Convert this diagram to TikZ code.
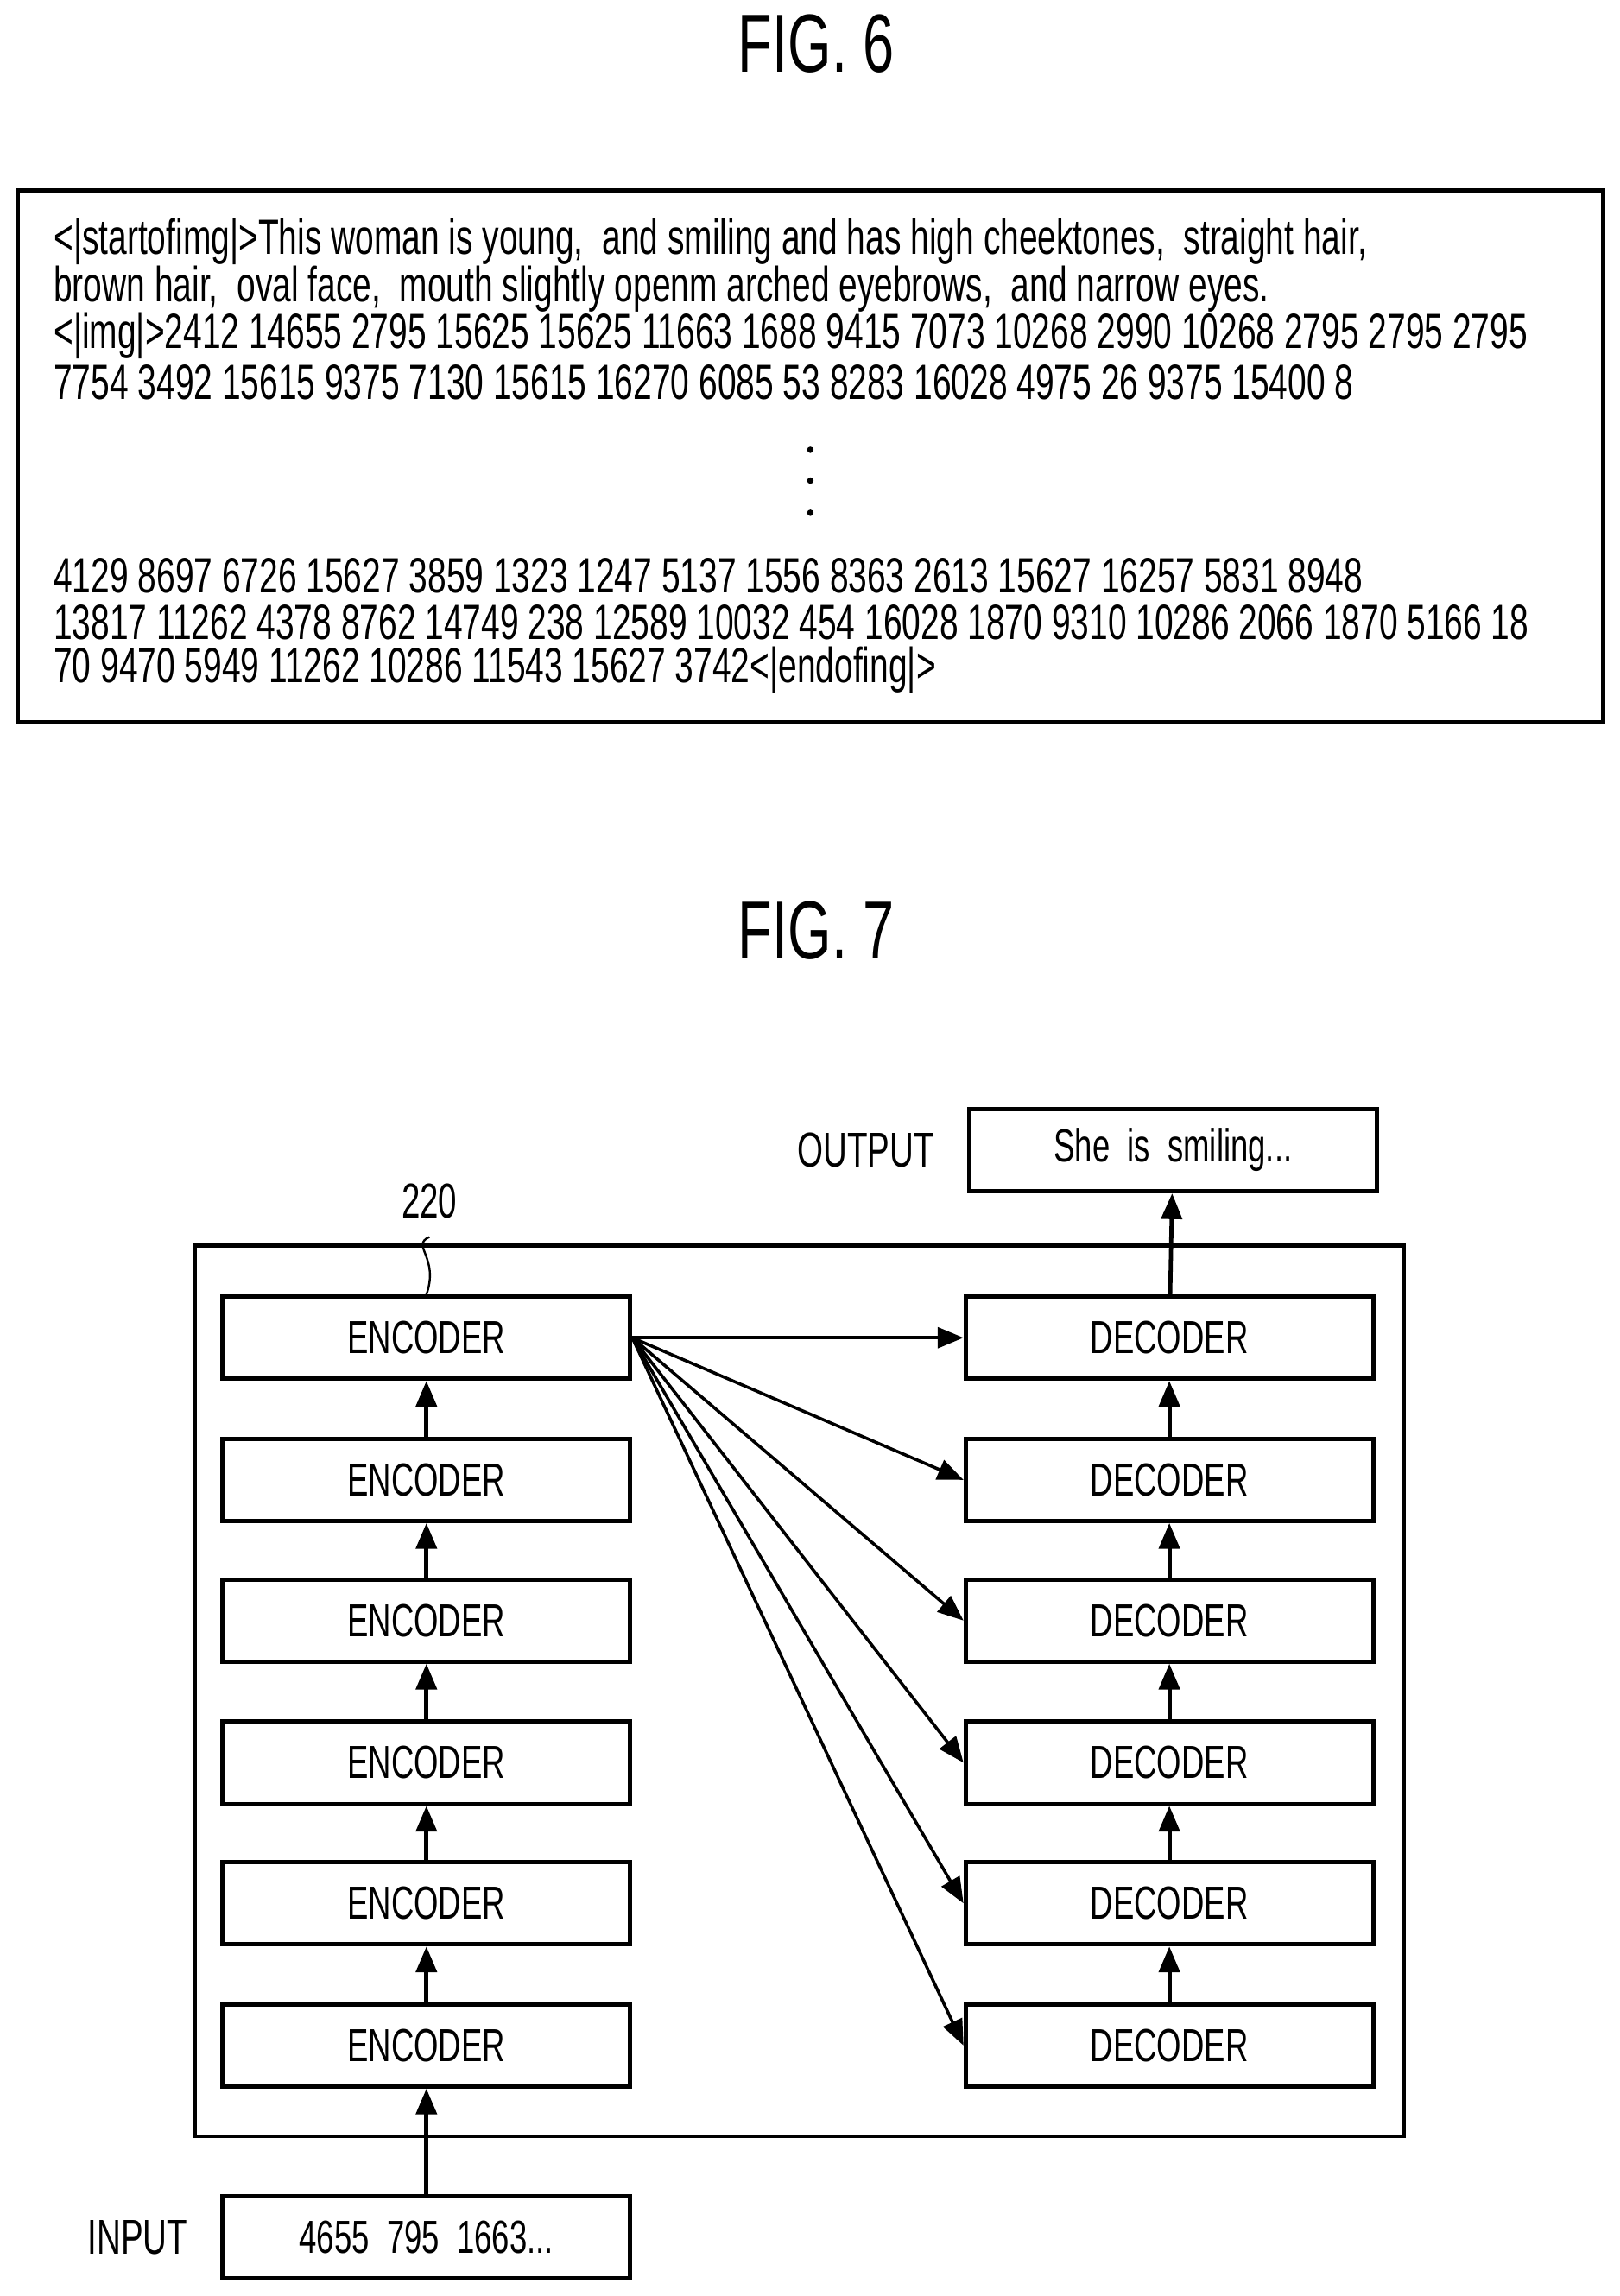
\documentclass[tikz,border=0pt]{standalone}
\usepackage{fontspec}
\setmainfont[FakeStretch=0.68]{Liberation Sans}
\usetikzlibrary{positioning, arrows.meta}

\begin{document}
\begin{tikzpicture}[
    x=0.01cm, y=-0.01cm,
    block/.style={draw, thick, minimum width=2.78cm, minimum height=0.56cm, font=\fontsize{9}{11}\selectfont},
    codeline/.style={anchor=west, inner sep=0pt, font=\fontsize{9.6}{11}\selectfont},
    arrow/.style={-{Triangle[length=5pt, width=4pt]}, thick}
]
    \useasboundingbox (0,0) rectangle (1105,1567);

    % FIG. 6
    \node[font=\fontsize{16}{18}\selectfont] (fig6) at (557,30) {FIG.\ 6};
    \draw[thick] (12,130) rectangle (1094,493);
    \node[codeline] (l1) at (36,165) {<|startofimg|>This woman is young, \ and smiling and has high cheektones, \ straight hair,};
    \node[codeline] (l2) at (36,197) {brown hair, \ oval face, \ mouth slightly openm arched eyebrows, \ and narrow eyes.};
    \node[codeline] (l3) at (36,229) {<|img|>2412 14655 2795 15625 15625 11663 1688 9415 7073 10268 2990 10268 2795 2795 2795};
    \node[codeline] (l4) at (36,261) {7754 3492 15615 9375 7130 15615 16270 6085 53 8283 16028 4975 26 9375 15400 8};
    \foreach \y in {307,328,350} \fill (553,\y) circle (2.2);
    \node[codeline] (l5) at (36,393) {4129 8697 6726 15627 3859 1323 1247 5137 1556 8363 2613 15627 16257 5831 8948};
    \node[codeline] (l6) at (36,425) {13817 11262 4378 8762 14749 238 12589 10032 454 16028 1870 9310 10286 2066 1870 5166 18};
    \node[codeline] (l7) at (36,457) {70 9470 5949 11262 10286 11543 15627 3742<|endofing|>};

    % FIG. 7
    \node[font=\fontsize{16}{18}\selectfont] (fig7) at (557,635) {FIG.\ 7};
    \draw[thick] (133,850) rectangle (958,1458);

    \foreach \i/\y in {1/913,2/1010,3/1106,4/1203,5/1299,6/1396} {
        \node[block] (enc\i) at (291,\y) {ENCODER};
        \node[block] (dec\i) at (798,\y) {DECODER};
    }
    \foreach \i/\j in {2/1,3/2,4/3,5/4,6/5} {
        \draw[arrow] (enc\i) -- (enc\j);
        \draw[arrow] (dec\i) -- (dec\j);
    }
    \foreach \i in {1,...,6}
        \draw[arrow, semithick] (enc1.east) -- (dec\i.west);

    \node[block, anchor=west] (out) at (660,785) {She \ is \ smiling...};
    \node[left=0.1cm of out, font=\fontsize{9.5}{11}\selectfont] (outlbl) {OUTPUT};
    \draw[arrow] (dec1) -- (out);

    \node[block] (in) at (291,1527) {4655 \ 795 \ 1663...};
    \node[left=0.1cm of in, font=\fontsize{9.5}{11}\selectfont] (inlbl) {INPUT};
    \draw[arrow] (in) -- (enc6);

    \node[font=\fontsize{9.5}{11}\selectfont] (ref) at (293,820) {220};
    \draw (ref.south) .. controls (280,850) and (300,858) .. (enc1.north);
\end{tikzpicture}
\end{document}
